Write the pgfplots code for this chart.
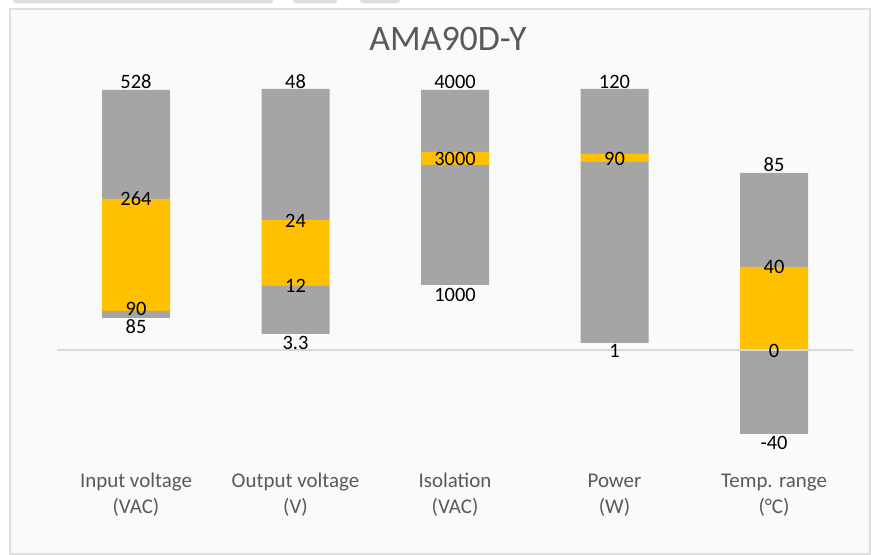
\documentclass[border=0pt]{standalone}
\usepackage{pgfplots}
\pgfplotsset{compat=1.18}
\usepackage{fontspec}
\setmainfont{Carlito}
\definecolor{bargray}{HTML}{A5A5A5}
\definecolor{baryellow}{HTML}{FFC000}
\definecolor{txtgray}{HTML}{595959}
\definecolor{bgc}{HTML}{FAFAFA}
\definecolor{framec}{HTML}{DEDEDE}
\definecolor{zline}{HTML}{D9D9D9}
\pgfplotsset{
  commonax/.style={at={(0,0)}, anchor=south west, scale only axis,
    width=878bp, height=555bp,
    xmin=-0.85266, xmax=4.65204, clip=false}
}
\begin{document}
\begin{tikzpicture}[x=1bp,y=1bp]
\useasboundingbox (0,0) rectangle (878,555);
\clip (0,0) rectangle (878,555);
\fill[white] (0,0) rectangle (878,555);
\fill[framec, rounded corners=3bp] (13,551.5) rectangle (273,565);
\fill[framec, rounded corners=3bp] (293,551.5) rectangle (337,565);
\fill[framec, rounded corners=3bp] (360,551.5) rectangle (400,565);
\filldraw[fill=bgc, draw=framec, line width=1.5bp] (10,1) rectangle (870,546);
\node[anchor=center, text=txtgray, font=\fontsize{36}{40}\selectfont] at (448,516.5) {AMA90D-Y};
% bar axis: values measured from a baseline 100 units below the zero line
\begin{axis}[commonax, ymin=-105, ymax=450,
  axis line style={draw=none}, ytick=\empty,
  xtick={0,1,2,3,4},
  xticklabels={{Input voltage\\(VAC)},{Output voltage\\(V)},{Isolation\\(VAC)},{Power\\(W)},{Temp. range\\(°C)}},
  major tick length=0pt,
  xticklabel style={align=center, font=\fontsize{21}{26}\selectfont, text=txtgray, anchor=center, yshift=60bp},
  ybar stacked, bar width=68bp]
\addplot[draw=none, fill=none] coordinates {(0,132) (1,116) (2,165) (3,107) (4,16)};
\addplot[draw=none, fill=bargray] coordinates {(0,7) (1,48) (2,120) (3,181) (4,85)};
\addplot[draw=none, fill=baryellow] coordinates {(0,112) (1,66) (2,13) (3,8) (4,82)};
\addplot[draw=none, fill=bargray] coordinates {(0,109) (1,131) (2,62) (3,65) (4,94)};
\end{axis}
\begin{axis}[commonax, ymin=-205, ymax=350, hide axis]
\addplot[zline, line width=1.5bp] coordinates {(-0.495,0) (4.495,0)};
\addplot[only marks, mark=none, nodes near coords, point meta=explicit symbolic,
  nodes near coords style={anchor=center, font=\fontsize{20.5}{24}\selectfont, text=black}]
  table[meta=lab] {
x y lab
0 268 528
0 151 264
0 41 90
0 23 85
1 268 48
1 129 24
1 64 12
1 7 3.3
2 268 4000
2 191 3000
2 55 1000
3 268 120
3 191 90
3 -1 1
4 185 85
4 83 40
4 -1 0
4 -93 -40
};
\end{axis}
\end{tikzpicture}
\end{document}
